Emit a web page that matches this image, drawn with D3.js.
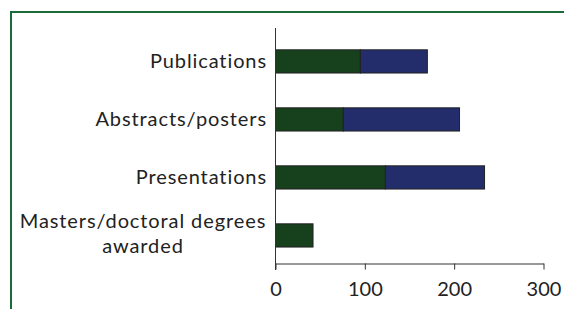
<!DOCTYPE html>
<html>
<head>
<meta charset="utf-8">
<script src="https://cdn.jsdelivr.net/npm/d3@7"></script>
<style>
  body { margin: 0; background: #fff; }
  svg { display: block; font-family: Lato, "Open Sans", sans-serif; }
</style>
</head>
<body>
<svg id="chart" width="564" height="309"></svg>
<script>
const categories = ['Publications', 'Abstracts/posters', 'Presentations', 'Masters/doctoral degrees awarded']
const labelLines = [['Publications'], ['Abstracts/posters'], ['Presentations'], ['Masters/doctoral degrees', 'awarded']]
const greenValues = [95, 76, 123, 42]
const blueValues = [75, 130, 111, 0]
const xTicks = [0, 100, 200, 300]

const svg = d3.select('#chart')

// green frame, top and left only
svg.append('path')
  .attr('d', 'M11,309V12H564')
  .attr('fill', 'none')
  .attr('stroke', '#1b6b3a')
  .attr('stroke-width', 2)

const x = d3.scaleLinear().domain([0, 300]).range([275.5, 543.5])
const y = d3.scaleBand().domain(categories).range([28, 263.5])
  .paddingInner(0.6).paddingOuter(0.33).align(0.57)

const rows = categories.map((c, i) => ({ c, g: greenValues[i], b: blueValues[i] }))

// bars
const bar = svg.append('g')
rows.forEach((d) => {
  bar.append('rect')
    .attr('x', x(0)).attr('y', y(d.c))
    .attr('width', x(d.g) - x(0)).attr('height', y.bandwidth())
    .attr('fill', '#17401d').attr('stroke', '#222').attr('stroke-width', 1)
  if (d.b > 0) {
    bar.append('rect')
      .attr('x', x(d.g)).attr('y', y(d.c))
      .attr('width', x(d.g + d.b) - x(d.g)).attr('height', y.bandwidth())
      .attr('fill', '#232d6b').attr('stroke', '#222').attr('stroke-width', 1)
  }
})

// x axis
const xAxis = svg.append('g')
  .attr('transform', 'translate(0,263.5)')
  .call(d3.axisBottom(x).tickValues(xTicks).tickSize(6).tickSizeOuter(0).tickPadding(12))
xAxis.select('.domain').attr('stroke', '#333')
xAxis.selectAll('.tick line').attr('stroke', '#333')
xAxis.selectAll('.tick text')
  .attr('font-size', 20).attr('fill', '#222')
  .attr('font-family', 'Lato, sans-serif')

// y axis line
svg.append('line')
  .attr('x1', x(0)).attr('x2', x(0))
  .attr('y1', 28).attr('y2', 270)
  .attr('stroke', '#333')

// category labels
const lab = svg.append('g')
  .attr('font-size', 20).attr('fill', '#222').attr('letter-spacing', 0.9)
categories.forEach((c, i) => {
  const lines = labelLines[i]
  const cy = y(c) + y.bandwidth() / 2
  if (lines.length === 1) {
    lab.append('text')
      .attr('x', 267).attr('y', cy).attr('dy', '0.35em')
      .attr('text-anchor', 'end')
      .text(lines[0])
  } else {
    lines.forEach((t, j) => {
      lab.append('text')
        .attr('x', 143).attr('y', cy + (j - 0.5) * 25 - 2).attr('dy', '0.35em')
        .attr('text-anchor', 'middle')
        .text(t)
    })
  }
})
</script>
</body>
</html>
